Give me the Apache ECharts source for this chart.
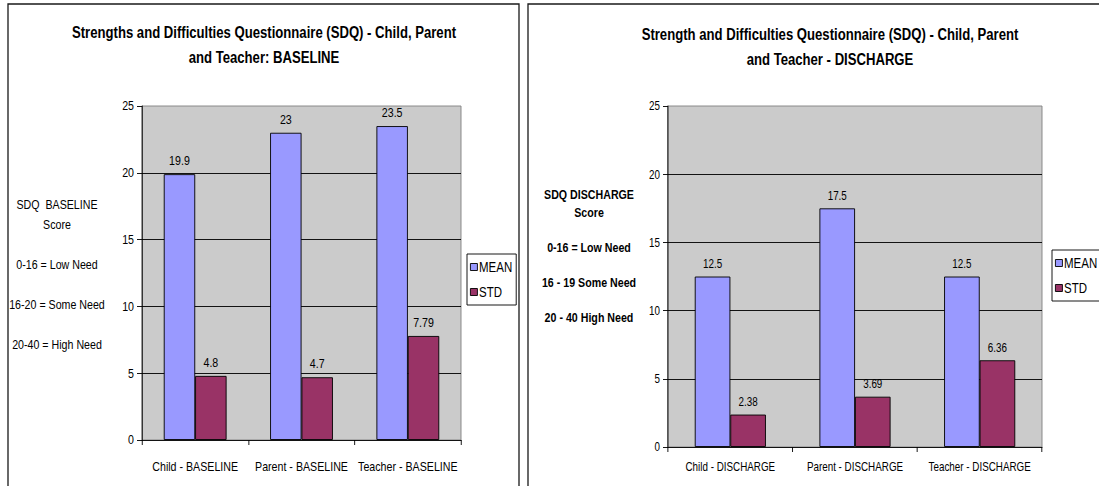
<!DOCTYPE html>
<html>
<head>
<meta charset="utf-8">
<script src="https://cdn.jsdelivr.net/npm/echarts@6/dist/echarts.min.js"></script>
<style>
  html, body { margin: 0; padding: 0; background: #fff; overflow: hidden; }
  #wrap { width: 1099px; height: 486px; overflow: hidden; }
  /* The chart is laid out on a wider sheet and squeezed horizontally
     so the Arial-style type gets its narrow, condensed look. */
  #chart { width: 1341px; height: 486px; transform: scaleX(0.82); transform-origin: 0 0; }
</style>
</head>
<body>
<div id="wrap"><div id="chart"></div></div>
<script>
// SDQ scores: mean and standard deviation by respondent, at baseline and at discharge
const baselineCategories = ['Child - BASELINE', 'Parent - BASELINE', 'Teacher - BASELINE'];
const baselineMean = [19.9, 23, 23.5];
const baselineStd = [4.8, 4.7, 7.79];

const dischargeCategories = ['Child - DISCHARGE', 'Parent - DISCHARGE', 'Teacher - DISCHARGE'];
const dischargeMean = [12.5, 17.5, 12.5];
const dischargeStd = [2.38, 3.69, 6.36];

const seriesNames = ['MEAN', 'STD'];
const baselineKey = ['SDQ  BASELINE', 'Score', '0-16 = Low Need', '16-20 = Some Need', '20-40 = High Need'];
const dischargeKey = ['SDQ DISCHARGE', 'Score', '0-16 = Low Need', '16 - 19 Some Need', '20 - 40 High Need'];

const FONT = '"Liberation Sans", Arial, sans-serif';
const MEAN_COLOR = '#9999ff';
const STD_COLOR = '#993366';

// horizontal squeeze applied by CSS; X() maps an on-screen x to the chart's own x
const SQUEEZE = 0.82;
const X = px => px / SQUEEZE;

function yAxis(gridIndex, size) {
  return {
    type: 'value', gridIndex, min: 0, max: 25, interval: 5,
    axisLine: { show: true, lineStyle: { color: '#000', width: 1 } },
    axisTick: { show: true, length: X(5), lineStyle: { color: '#000' } },
    axisLabel: { color: '#000', fontFamily: FONT, fontSize: size, margin: X(8) },
    splitLine: { show: true, showMinLine: false, showMaxLine: false, lineStyle: { color: '#000', width: 1 } }
  };
}
function xAxis(gridIndex, cats, margin, size) {
  return {
    type: 'category', gridIndex, data: cats,
    axisLine: { show: true, lineStyle: { color: '#000', width: 1 } },
    axisTick: { show: true, length: 5, lineStyle: { color: '#000' } },
    axisLabel: { color: '#000', fontFamily: FONT, fontSize: size, margin, interval: 0 },
    splitLine: { show: false }
  };
}
function barSeries(name, data, idx, color, gap, size) {
  return {
    name, type: 'bar', data, xAxisIndex: idx, yAxisIndex: idx,
    barGap: '0%', barCategoryGap: gap,
    itemStyle: { color, borderColor: '#000', borderWidth: 1 },
    label: { show: true, position: 'top', distance: 7, color: '#000', fontFamily: FONT, fontSize: size },
    emphasis: { disabled: true }
  };
}
function keyTexts(lines, cx, ys, bold) {
  return lines.map((t, i) => ({
    type: 'text', x: X(cx), y: ys[i],
    style: { text: t, textAlign: 'center', textVerticalAlign: 'middle',
      font: (bold ? 'bold ' : '') + '13px ' + FONT, fill: '#000' }
  }));
}
function legend(left, top) {
  return {
    data: seriesNames.map(n => ({ name: n, icon: 'rect' })),
    orient: 'vertical', left: X(left), top,
    itemWidth: X(7), itemHeight: 7, itemGap: 11,
    borderColor: '#000', borderWidth: 1, padding: [6, X(4), 6, X(3)],
    itemStyle: { borderColor: '#000', borderWidth: 1 },
    textStyle: { color: '#000', fontFamily: FONT, fontSize: 14, padding: [0, 0, 0, -3] },
    selectedMode: false
  };
}

const chart = echarts.init(document.getElementById('chart'), null, { renderer: 'svg' });
chart.setOption({
  backgroundColor: '#fff',
  animation: false,
  title: [
    { text: 'Strengths and Difficulties Questionnaire (SDQ) - Child, Parent\nand Teacher: BASELINE',
      left: X(264), top: 20, textAlign: 'center', padding: 0,
      textStyle: { fontFamily: FONT, fontWeight: 'bold', fontSize: 16, lineHeight: 25, color: '#000' } },
    { text: 'Strength and Difficulties Questionnaire (SDQ) - Child, Parent\nand Teacher - DISCHARGE',
      left: X(830), top: 22, textAlign: 'center', padding: 0,
      textStyle: { fontFamily: FONT, fontWeight: 'bold', fontSize: 16, lineHeight: 25, color: '#000' } }
  ],
  legend: [legend(467, 254), legend(1052, 250)],
  grid: [
    { left: X(142), top: 106, width: X(319), height: 334, show: true, backgroundColor: '#cbcbcb', borderColor: '#808080', borderWidth: 1 },
    { left: X(668), top: 106, width: X(374), height: 341, show: true, backgroundColor: '#cbcbcb', borderColor: '#808080', borderWidth: 1 }
  ],
  xAxis: [xAxis(0, baselineCategories, 20, 13), xAxis(1, dischargeCategories, 14, 12)],
  yAxis: [yAxis(0, 13), yAxis(1, 12)],
  series: [
    barSeries(seriesNames[0], baselineMean, 0, MEAN_COLOR, '41%', 13),
    barSeries(seriesNames[1], baselineStd, 0, STD_COLOR, '41%', 13),
    barSeries(seriesNames[0], dischargeMean, 1, MEAN_COLOR, '43%', 12),
    barSeries(seriesNames[1], dischargeStd, 1, STD_COLOR, '43%', 12)
  ],
  graphic: [
    { type: 'rect', x: X(8), y: 4, shape: { width: X(511), height: 500 },
      style: { fill: 'none', stroke: '#1a1a1a', lineWidth: 1.6 }, z: 100 },
    { type: 'rect', x: X(528), y: 4, shape: { width: X(600), height: 500 },
      style: { fill: 'none', stroke: '#1a1a1a', lineWidth: 1.6 }, z: 100 },
    ...keyTexts(baselineKey, 57, [205, 225, 265, 305, 345], false),
    ...keyTexts(dischargeKey, 589, [195, 213, 248, 283, 318], true)
  ]
});
</script>
</body>
</html>
